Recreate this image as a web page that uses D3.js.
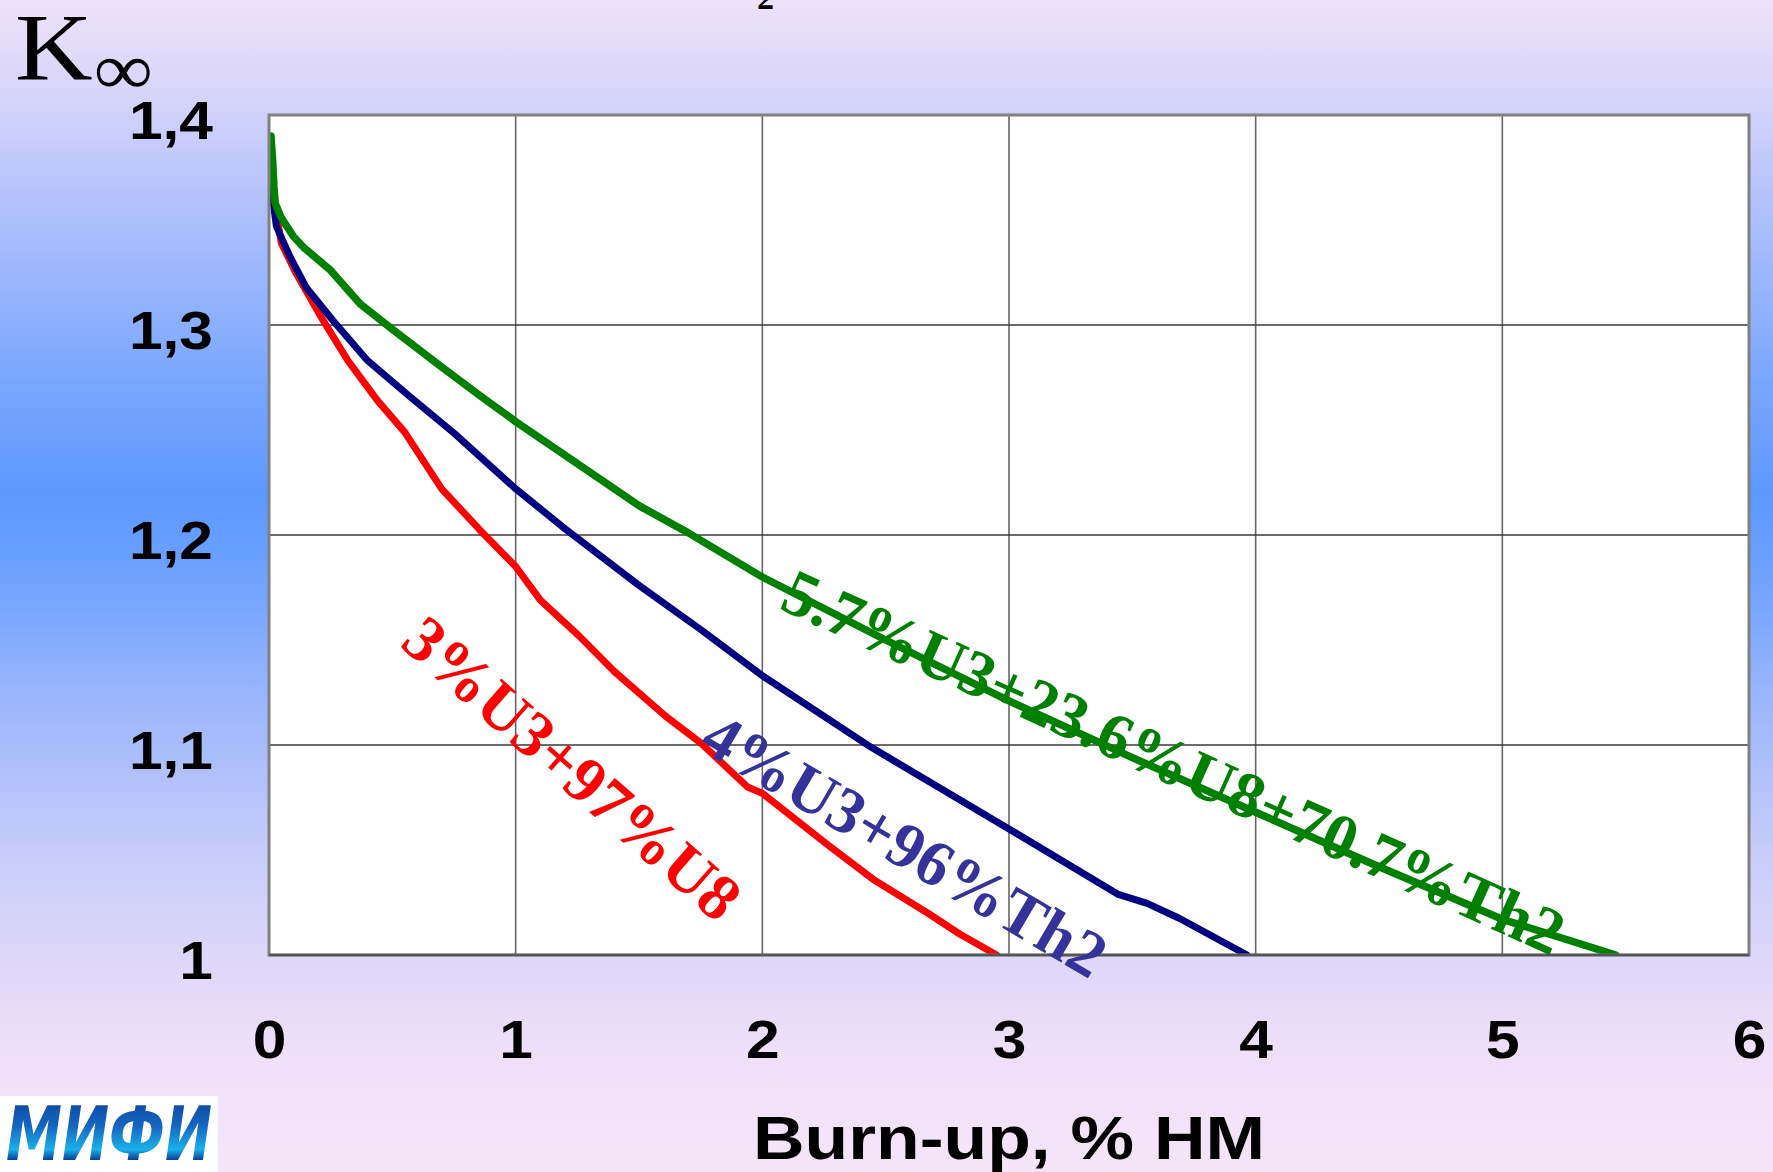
<!DOCTYPE html>
<html>
<head>
<meta charset="utf-8">
<script src="https://cdn.jsdelivr.net/npm/d3@7"></script>
<style>
  html, body { margin: 0; padding: 0; overflow: hidden; }
  svg { display: block; }
</style>
</head>
<body>
<svg id="chart" width="1773" height="1172"></svg>
<script>
// ---- data ----
const xTicks = [0, 1, 2, 3, 4, 5, 6];
const yTicks = [1.0, 1.1, 1.2, 1.3, 1.4];
const yTickLabels = ["1", "1,1", "1,2", "1,3", "1,4"];

const redBurnup = [0.005, 0.02, 0.05, 0.11, 0.21, 0.32, 0.44, 0.55, 0.70, 0.85, 1.00, 1.10, 1.26, 1.40, 1.61, 1.75, 1.94, 2.00, 2.27, 2.45, 2.67, 2.80, 2.95];
const redK      = [1.383, 1.360, 1.339, 1.3246, 1.304, 1.283, 1.264, 1.249, 1.222, 1.203, 1.185, 1.169, 1.1516, 1.135, 1.1135, 1.101, 1.080, 1.077, 1.052, 1.036, 1.020, 1.010, 1.000];

const blueBurnup = [0.005, 0.015, 0.03, 0.085, 0.15, 0.26, 0.40, 0.57, 0.75, 1.00, 1.20, 1.50, 1.75, 2.00, 2.44, 3.00, 3.44, 3.56, 3.69, 3.965];
const blueK      = [1.385, 1.360, 1.347, 1.3325, 1.318, 1.302, 1.283, 1.266, 1.2485, 1.222, 1.203, 1.176, 1.155, 1.133, 1.099, 1.060, 1.029, 1.0246, 1.0175, 1.000];

const greenBurnup = [0.008, 0.015, 0.02, 0.025, 0.05, 0.10, 0.14, 0.25, 0.37, 0.50, 0.70, 0.86, 1.00, 1.25, 1.50, 1.70, 2.00, 2.50, 3.00, 3.50, 4.00, 4.50, 5.00, 5.46];
const greenK      = [1.390, 1.378, 1.366, 1.358, 1.351, 1.342, 1.337, 1.326, 1.310, 1.298, 1.280, 1.266, 1.254, 1.234, 1.214, 1.201, 1.180, 1.150, 1.121, 1.094, 1.068, 1.042, 1.017, 1.000];

const seriesNames  = ["3%U3+97%U8", "4%U3+96%Th2", "5.7%U3+23.6%U8+70.7%Th2"];
const seriesColors = ["#ff0000", "#000080", "#008000"];
const labelColors  = ["#ff0000", "#333399", "#008000"];
// label anchor (data coordinates) and angle
const labelX     = [1.23, 2.578, 3.668];
const labelK     = [1.089, 1.0524, 1.0919];
const labelAngle = [41.2, 30.5, 24.2];

// ---- layout ----
const W = 1773, H = 1172;
const svg = d3.select("#chart");
const defs = svg.append("defs");

const bg = defs.append("linearGradient").attr("id", "bg")
  .attr("x1", 0).attr("y1", 0).attr("x2", 0).attr("y2", 1);
[[0, "#eee2f9"], [0.077, "#d8d5fa"], [0.24, "#99b5fd"], [0.33, "#78a6fd"], [0.42, "#5d98ff"],
 [0.48, "#6aa0ff"], [0.6, "#9cb6fc"], [0.725, "#c6ccfa"], [0.81, "#dcd6f9"], [0.9, "#efe0f8"], [1, "#f5e5f8"]]
  .forEach(([o, c]) => bg.append("stop").attr("offset", o).attr("stop-color", c));

const logoGrad = defs.append("linearGradient").attr("id", "logoGrad")
  .attr("x1", 0).attr("y1", 0).attr("x2", 0).attr("y2", 1);
[[0, "#0b3f95"], [0.4, "#1565c0"], [0.68, "#1ab0ea"], [0.8, "#0b3f95"], [1, "#0b3f95"]]
  .forEach(([o, c]) => logoGrad.append("stop").attr("offset", o).attr("stop-color", c));

svg.append("rect").attr("width", W).attr("height", H).attr("fill", "url(#bg)");

const x = d3.scaleLinear().domain([0, 6]).range([269, 1749]);
const y = d3.scaleLinear().domain([1.0, 1.4]).range([955, 115]);

defs.append("clipPath").attr("id", "plotClip").append("rect")
  .attr("x", x(0)).attr("y", y(1.4)).attr("width", x(6) - x(0)).attr("height", y(1.0) - y(1.4));

// plot area
svg.append("rect")
  .attr("x", x(0)).attr("y", y(1.4)).attr("width", x(6) - x(0)).attr("height", y(1.0) - y(1.4))
  .attr("fill", "#ffffff");

// grid
const grid = svg.append("g");
grid.selectAll("line.v").data(xTicks.slice(1, -1)).join("line")
  .attr("x1", d => x(d)).attr("x2", d => x(d)).attr("y1", y(1.4)).attr("y2", y(1.0))
  .attr("stroke", "#666666").attr("stroke-width", 1.6);
grid.selectAll("line.h").data(yTicks.slice(1, -1)).join("line")
  .attr("x1", x(0)).attr("x2", x(6)).attr("y1", d => y(d)).attr("y2", d => y(d))
  .attr("stroke", "#3a3a3a").attr("stroke-width", 1.5);

// series
const line = d3.line().x(d => x(d[0])).y(d => y(d[1]));
const series = [
  d3.zip(redBurnup, redK),
  d3.zip(blueBurnup, blueK),
  d3.zip(greenBurnup, greenK)
];
const lines = svg.append("g").attr("clip-path", "url(#plotClip)");
series.forEach((pts, i) => {
  lines.append("path").datum(pts).attr("d", line)
    .attr("fill", "none").attr("stroke", seriesColors[i])
    .attr("stroke-width", i === 2 ? 7.5 : 7)
    .attr("stroke-linejoin", "round").attr("stroke-linecap", "round");
});

// frame
svg.append("rect")
  .attr("x", x(0)).attr("y", y(1.4)).attr("width", x(6) - x(0)).attr("height", y(1.0) - y(1.4))
  .attr("fill", "none").attr("stroke", "#808080").attr("stroke-width", 3);
svg.append("line").attr("x1", x(0)).attr("x2", x(6)).attr("y1", y(1.0)).attr("y2", y(1.0))
  .attr("stroke", "#555555").attr("stroke-width", 2.5);

// axes
const xAxis = svg.append("g").attr("transform", `translate(0,${y(1.0)})`)
  .call(d3.axisBottom(x).tickValues(xTicks).tickFormat(d3.format("d")).tickSize(0));
xAxis.select(".domain").remove();
xAxis.selectAll("text")
  .attr("y", 103).attr("dy", 0)
  .attr("transform", "scale(1.12,1)")
  .attr("font-family", "'Liberation Sans', Arial, sans-serif")
  .attr("font-weight", "bold").attr("font-size", 54).attr("fill", "#000");

const yAxis = svg.append("g").attr("transform", `translate(${x(0)},0)`)
  .call(d3.axisLeft(y).tickValues(yTicks).tickFormat((d, i) => yTickLabels[i]).tickSize(0));
yAxis.select(".domain").remove();
yAxis.selectAll("text")
  .attr("x", -50).attr("dy", "0.43em")
  .attr("transform", "scale(1.12,1)")
  .attr("font-family", "'Liberation Sans', Arial, sans-serif")
  .attr("font-weight", "bold").attr("font-size", 54).attr("fill", "#000");

// axis titles
svg.append("text")
  .attr("x", (x(0) + x(6)) / 2).attr("y", 1159)
  .attr("text-anchor", "middle")
  .attr("font-family", "'Liberation Sans', Arial, sans-serif")
  .attr("font-weight", "bold").attr("font-size", 62)
  .attr("textLength", 512).attr("lengthAdjust", "spacingAndGlyphs")
  .text("Burn-up, % HM");

const kLab = svg.append("text")
  .attr("transform", "translate(15,80) scale(1.12,1)")
  .attr("font-family", "'Liberation Serif', 'Times New Roman', serif")
  .attr("font-size", 96).attr("fill", "#000");
kLab.append("tspan").text("K");
kLab.append("tspan").attr("font-size", 74).attr("dy", 14).attr("dx", 1).text("∞");

// series labels
svg.append("g").selectAll("text").data(seriesNames).join("text")
  .attr("transform", (d, i) => `translate(${x(labelX[i])},${y(labelK[i])}) rotate(${labelAngle[i]})`)
  .attr("text-anchor", "middle").attr("dominant-baseline", "central")
  .attr("font-family", "'Liberation Serif', 'Times New Roman', serif")
  .attr("font-weight", "bold").attr("font-size", 65)
  .attr("fill", (d, i) => labelColors[i])
  .text(d => d);

// cut-off title fragment at the top edge
svg.append("text").attr("x", 757).attr("y", 9)
  .attr("font-family", "'Liberation Serif', 'Times New Roman', serif")
  .attr("font-weight", "bold").attr("font-size", 34).text("2");

// logo (bottom-left)
svg.append("rect").attr("x", 0).attr("y", 1096).attr("width", 218).attr("height", 76).attr("fill", "#ffffff");
svg.append("text").attr("x", 6).attr("y", 1160)
  .attr("font-family", "'DejaVu Sans', sans-serif")
  .attr("font-weight", "bold").attr("font-style", "italic")
  .attr("font-size", 74).attr("fill", "url(#logoGrad)")
  .attr("textLength", 206).attr("lengthAdjust", "spacingAndGlyphs")
  .text("МИФИ");
</script>
</body>
</html>
